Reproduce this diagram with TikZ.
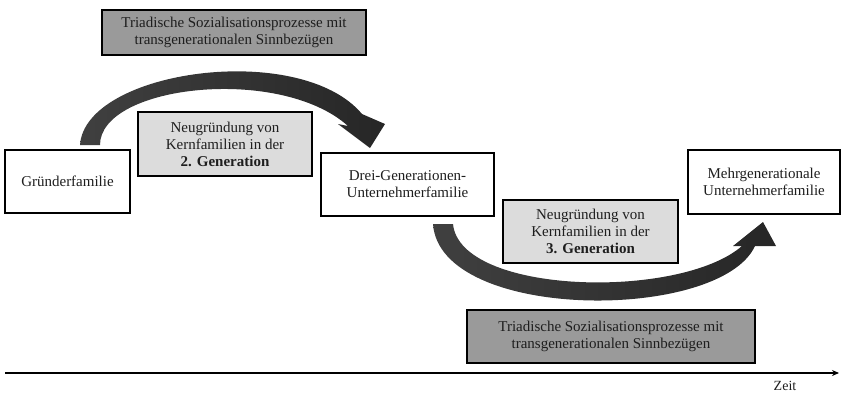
\documentclass[tikz,border=0pt]{standalone}
\usepackage{fontspec}
\setmainfont{Liberation Serif}
\usetikzlibrary{arrows.meta}
\definecolor{txt}{HTML}{1E1E1E}
\definecolor{darkbox}{HTML}{9A9A9A}
\definecolor{lightbox}{HTML}{DCDCDC}
\begin{document}
\begin{tikzpicture}[x=1pt,y=-1pt,
  box/.style={draw=black,line width=2pt,align=center,text=txt,
    font=\rmfamily\fontsize{15}{17}\selectfont,inner sep=2pt},
  famblock/.style={box,fill=white},
  newblock/.style={box,fill=lightbox},
  procblock/.style={box,fill=darkbox},
  bigarrow/.style={left color=black!75,right color=black!85}]
\useasboundingbox (0,0) rectangle (854,394);

% family stages
\node[famblock,minimum width=125,minimum height=63] (g1) at (67.5,181.5) {Gründerfamilie};
\node[famblock,minimum width=173,minimum height=63] (g2) at (407.5,184.5) {Drei-Generationen-\\Unternehmerfamilie};
\node[famblock,minimum width=152,minimum height=64] (g3) at (764,182) {Mehrgenerationale\\Unternehmerfamilie};

% founding of nuclear families
\node[newblock,minimum width=174,minimum height=64] (n2) at (225,144) {Neugründung von\\Kernfamilien in der\\\textbf{2. Generation}};
\node[newblock,minimum width=175,minimum height=63] (n3) at (590.5,231.5) {Neugründung von\\Kernfamilien in der\\\textbf{3. Generation}};

% socialisation processes
\node[procblock,minimum width=264,minimum height=45] (p1) at (234,32.5) {Triadische Sozialisationsprozesse mit\\transgenerationalen Sinnbezügen};
\node[procblock,minimum width=288,minimum height=53] (p2) at (611,336.5) {Triadische Sozialisationsprozesse mit\\transgenerationalen Sinnbezügen};

% upper curved arrow
\shade[bigarrow] (80,145) .. controls (85,70) and (300,40) .. (362,114)
  -- (385,124) -- (370,148) -- (338,124) -- (348,126)
  .. controls (280,65) and (100,85) .. (100,145) -- cycle;

% lower curved arrow
\shade[bigarrow] (433,224) .. controls (440,322) and (720,322) .. (755,246)
  -- (776,246) -- (763,222) -- (733,246) -- (742,246)
  .. controls (680,300) and (460,295) .. (453,224) -- cycle;

% time axis
\coordinate (t0) at (5,373);
\coordinate (t1) at (839,373);
\draw[line width=2pt,-{Stealth[length=7pt,width=6pt]}] (t0) -- (t1);
\node[text=txt,font=\rmfamily\fontsize{14}{16}\selectfont] (zeit) at (785,386) {Zeit};
\end{tikzpicture}
\end{document}
